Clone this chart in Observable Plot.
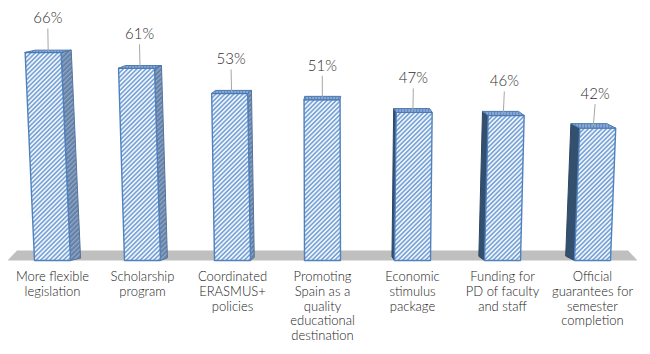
<!DOCTYPE html>
<html>
<head>
<meta charset="utf-8">
<script src="https://cdn.jsdelivr.net/npm/d3@7"></script>
<script src="https://cdn.jsdelivr.net/npm/@observablehq/plot@0.6"></script>
<style>
  html, body { margin: 0; padding: 0; background: #ffffff; }
  #chart svg { display: block; }
</style>
</head>
<body>
<div id="chart"></div>
<script>
// ---- data ----
const categories = [
  "More flexible\nlegislation",
  "Scholarship\nprogram",
  "Coordinated\nERASMUS+\npolicies",
  "Promoting\nSpain as a\nquality\neducational\ndestination",
  "Economic\nstimulus\npackage",
  "Funding for\nPD of faculty\nand staff",
  "Official\nguarantees for\nsemester\ncompletion"
];
const values = [66, 61, 53, 51, 47, 46, 42];
const valueLabels = ["66%", "61%", "53%", "51%", "47%", "46%", "42%"];

// ---- geometry helpers (pseudo-3D perspective) ----
const X0 = 7, X1 = 637, Y0 = 260, YMAX = 82.5;
const pxPerX = (X1 - X0) / 7;
const pxPerY = Y0 / YMAX;
const vanishPx = 340;
const hw = 0.2;

const rows = values.map((v, i) => {
  const bxPx = X0 + pxPerX * (i + 0.5);
  const leanU = ((bxPx - vanishPx) * (v * pxPerY) / 6400) / pxPerX;
  const wsPx = Math.abs(bxPx - vanishPx) * 0.035;
  const sign = bxPx < vanishPx ? 1 : -1;
  const wsU = sign * wsPx / pxPerX;
  const dU = Math.max(2, 3.5 + (bxPx - vanishPx) * 0.004) / pxPerY;
  return {i, v, cat: categories[i], lab: valueLabels[i], leanU, wsU, wsPx, sign, dU};
});

const front = [], sidesR = [], sidesL = [], tops = [];
for (const r of rows) {
  const {i, v, leanU, wsU, dU} = r;
  const fp = [[i - hw, 0], [i + hw, 0], [i + hw + leanU, v], [i - hw + leanU, v], [i - hw, 0]];
  fp.forEach(([x, y]) => front.push({x, y, k: i}));
  if (r.wsPx > 1) {
    const eb = r.sign > 0 ? i + hw : i - hw;
    const et = eb + leanU;
    const sp = [[eb, 0], [et, v], [et + wsU, v + dU], [eb + wsU, dU], [eb, 0]];
    const target = r.sign > 0 ? sidesR : sidesL;
    sp.forEach(([x, y]) => target.push({x, y, k: i}));
  }
  const tp = [[i - hw + leanU, v], [i + hw + leanU, v], [i + hw + leanU + wsU, v + dU], [i - hw + leanU + wsU, v + dU], [i - hw + leanU, v]];
  tp.forEach(([x, y]) => tops.push({x, y, k: i}));
}

const floorTop = 10 / pxPerY;
const floorInset = 9.5 / pxPerX;
const floor = [
  {x: -0.5, y: 0}, {x: 6.5, y: 0},
  {x: 6.5 - floorInset, y: floorTop}, {x: -0.5 + floorInset, y: floorTop}
];

const labelOff = 34 / pxPerY;
const leaderTop = (34 - 10) / pxPerY;

const chart = Plot.plot({
  width: 650,
  height: 354,
  margin: 0,
  x: {domain: [-0.5, 6.5], range: [X0, X1], axis: null},
  y: {domain: [0, YMAX], range: [Y0, 0], axis: null},
  style: {background: "#ffffff", fontFamily: "Lato, 'Open Sans', sans-serif"},
  marks: [
    Plot.line(floor.concat([floor[0]]), {x: "x", y: "y", fill: "#bfbfbf", stroke: "none"}),
    Plot.line(sidesR, {x: "x", y: "y", z: "k", fill: "url(#hatchside)", stroke: "#55739c", strokeWidth: 1, strokeLinejoin: "miter"}),
    Plot.line(sidesL, {x: "x", y: "y", z: "k", fill: "#34506f", stroke: "#2e4766", strokeWidth: 1, strokeLinejoin: "miter"}),
    Plot.line(front, {x: "x", y: "y", z: "k", fill: "url(#hatchfront)", stroke: "#4f81bd", strokeWidth: 1.4, strokeLinejoin: "miter"}),
    Plot.line(tops, {x: "x", y: "y", z: "k", fill: "url(#hatchtop)", stroke: "#4a78b0", strokeWidth: 1, strokeLinejoin: "miter"}),
    Plot.link(rows, {
      x1: d => d.i + d.leanU / 2,
      y1: d => d.v + leaderTop,
      x2: d => d.i + d.leanU + d.wsU / 2,
      y2: d => d.v + d.dU / 2,
      stroke: "#a6a6a6", strokeWidth: 1
    }),
    Plot.text(rows, {
      x: d => d.i + d.leanU / 2,
      y: d => d.v + labelOff,
      text: "lab",
      fontSize: 15, fontWeight: 300, fill: "#2e2e2e", textAnchor: "middle", lineAnchor: "middle"
    }),
    Plot.text(rows, {
      x: "i", y: 0, text: "cat",
      dy: 10, lineAnchor: "top", lineHeight: 1.14,
      fontSize: 13, fontWeight: 300, fill: "#222222", textAnchor: "middle"
    })
  ]
});

// hatch patterns
const defs = d3.select(chart).insert("defs", ":first-child");
function hatch(id, bg, fg, size, sw, rot) {
  const p = defs.append("pattern")
    .attr("id", id).attr("patternUnits", "userSpaceOnUse")
    .attr("width", size).attr("height", size)
    .attr("patternTransform", `rotate(${rot})`);
  p.append("rect").attr("width", size).attr("height", size).attr("fill", bg);
  p.append("rect").attr("width", sw).attr("height", size).attr("fill", fg);
}
hatch("hatchfront", "#eef4fb", "#7ba4d6", 3.2, 1.6, 45);
hatch("hatchtop", "#5b84bd", "#a8c2e4", 3, 1.2, 0);
hatch("hatchside", "#6580a6", "#93abc9", 3.4, 1.2, 45);

document.getElementById("chart").appendChild(chart);
</script>
</body>
</html>
